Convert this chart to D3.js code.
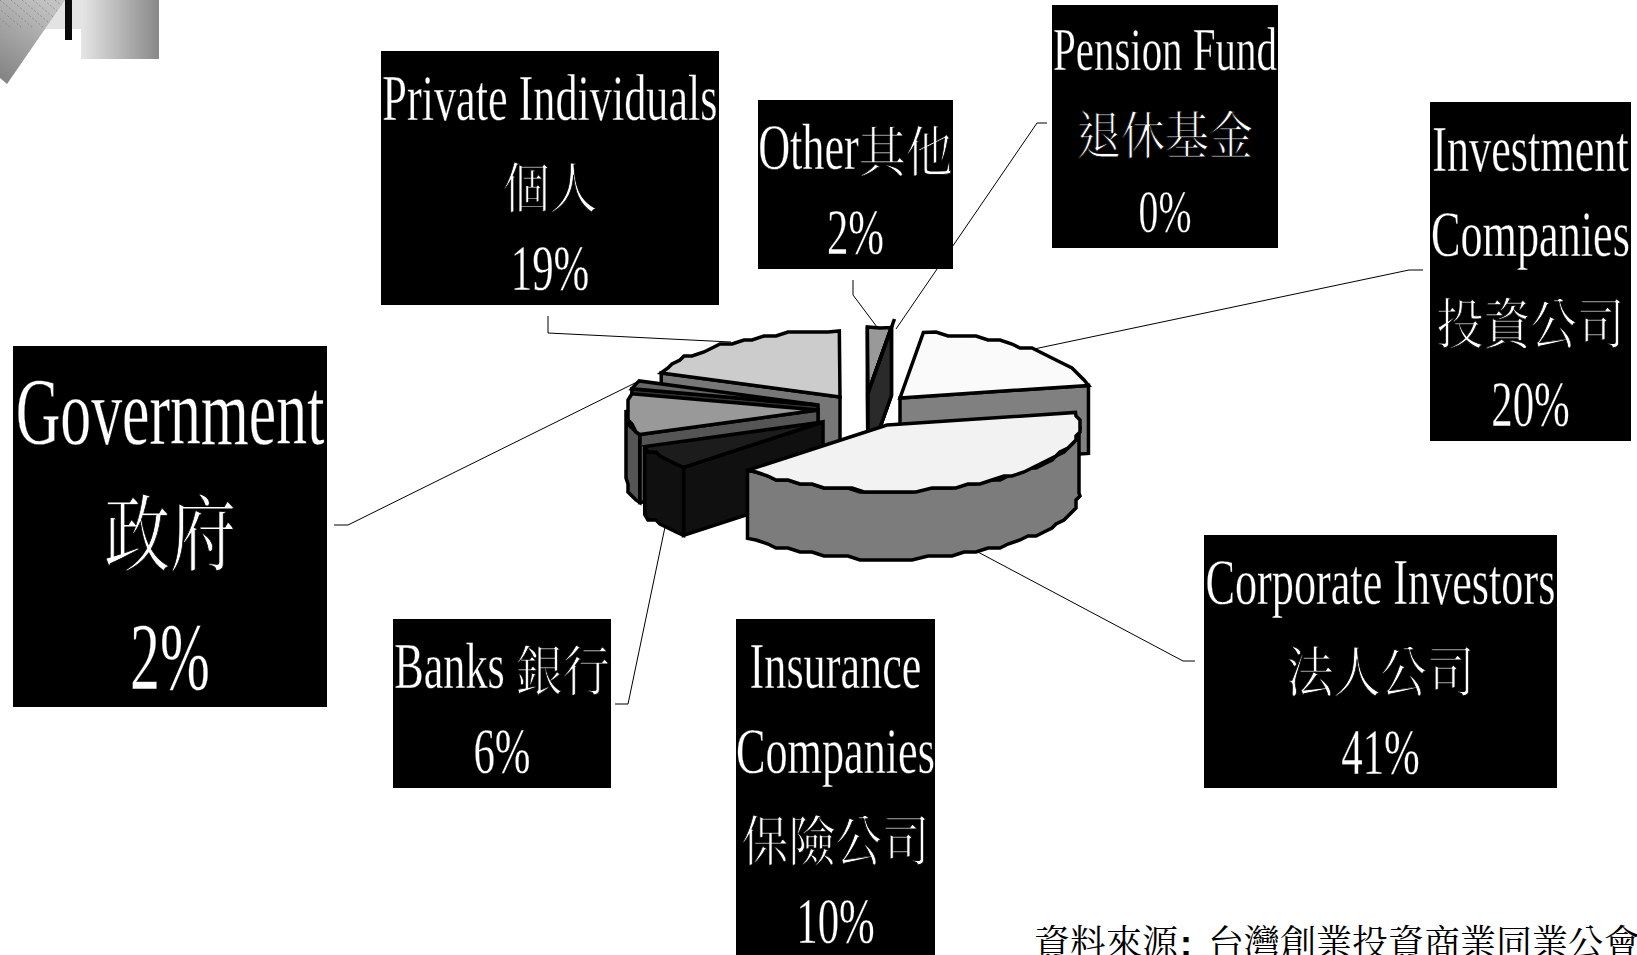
<!DOCTYPE html>
<html><head><meta charset="utf-8">
<script src="https://cdn.jsdelivr.net/npm/d3@7/dist/d3.min.js"></script>
<style>html,body{margin:0;padding:0;background:#fff;overflow:hidden}svg{display:block}</style>
</head><body><svg id="c" width="1637" height="955"></svg>
<script>
// ---- data (clockwise from the pie's start angle)
const categories = ["Investment Companies","Corporate Investors","Banks","Insurance Companies","Government","Private Individuals","Other","Pension Fund"];
const values = [20,41,6,10,2,19,2,0];
const labelLines = [
  ["Investment","Companies","投資公司"],
  ["Corporate Investors","法人公司"],
  ["Banks 銀行"],
  ["Insurance","Companies","保險公司"],
  ["Government","政府"],
  ["Private Individuals","個人"],
  ["Other其他"],
  ["Pension Fund","退休基金"]
];
const sourceNote = ["資料來源",": ","台灣創業投資商業同業公會"];

// ---- styling and layout, by category index
const topFill  = ["#fafafa","#f2f2f2","#1c1c1c","#999999","#666666","#cccccc","#999999","#333333"];
const wallFill = ["#808080","#7c7c7c","#101010","#555555","#333333","#777777","#2a2a2a","#2a2a2a"];
const apex = [[900,398],[887,425],[823,422],[818,410],[818,405],[840,397],[868,393],[868,393]];
const drawOrder = [0,5,6,7,4,3,2,1];
const boxes = [[1430,102,201,339],[1204,535,353,253],[393,619,218,169],[736,619,199,345],[13,346,314,361],[381,51,338,254],[758,100,195,169],[1052,5,226,243]];
const leaders = [
  [[1423,270],[1409,270],[1034,349]],
  [[1195,661],[1183,661],[976,551]],
  [[615,704],[628,704],[665,527]],
  null,
  [[334,525],[348,525],[635,383]],
  [[548,316],[548,333],[731,342]],
  [[853,280],[853,295],[877,327]],
  [[1047,123],[1037,123],[896,329]]
];
// text metrics per label: latin size, line pitch, first baseline offset, cjk size, latin squeeze
const textStyle = categories.map((c,i)=> i===4 ? {size:95,pitch:122.5,first:98,cjk:66,sq:.65,cy:1.25,off:-3}
  : i===7 ? {size:62,pitch:81,first:65,cjk:44,sq:.66,cy:1.15,off:3}
  : {size:66,pitch:85,first:69,cjk:47,sq:.67,cy:1.15,off:3});
const rx = 192, ry = 66, depth = 68;
const svg = d3.select("#c");
const defs = svg.append("defs");

// ---- corner decoration
const g1 = defs.append("linearGradient").attr("id","gr1");
g1.append("stop").attr("offset",0).attr("stop-color","#e6e6e6");
g1.append("stop").attr("offset",1).attr("stop-color","#888888");
const g2 = defs.append("linearGradient").attr("id","gr2").attr("x1",0.7).attr("y1",0).attr("x2",0.2).attr("y2",1);
g2.append("stop").attr("offset",0).attr("stop-color","#c4c4c4");
g2.append("stop").attr("offset",1).attr("stop-color","#858585");
const deco = svg.append("g");
deco.append("rect").attr("x",40).attr("y",0).attr("width",41).attr("height",29).attr("fill","#e3e3e3");
deco.append("rect").attr("x",81).attr("y",0).attr("width",78).attr("height",59).attr("fill","url(#gr1)");
deco.append("polygon").attr("points","0,0 65,0 7,84 0,78").attr("fill","url(#gr2)");
defs.append("clipPath").attr("id","decoClip").append("polygon").attr("points","0,0 65,0 46,28 0,28");
deco.append("g").attr("clip-path","url(#decoClip)").selectAll("line").data(d3.range(-5,9)).join("line")
  .attr("x1",d=>d*11).attr("y1",0).attr("x2",d=>d*11+52).attr("y2",44)
  .attr("stroke","#6f6f6f").attr("stroke-width",1).attr("stroke-dasharray","2 2").attr("opacity",.55);
deco.append("rect").attr("x",65).attr("y",0).attr("width",7).attr("height",40).attr("fill","#0a0a0a");

// ---- pie geometry from d3.pie
const deg = Math.PI/180;
const arcs = d3.pie().sort(null).value(d=>d).startAngle(7*deg).endAngle(367*deg)(values);
const grid = 4;
const snap = v => Math.round(v/grid)*grid;
const rawPt = (i,a,k=1) => [apex[i][0]+k*rx*Math.sin(a), apex[i][1]-k*ry*Math.cos(a)];
const rimPt = (i,a,dz=0) => { const p = rawPt(i,a); return [snap(p[0]), snap(p[1])+dz]; };
const exactPt = (i,a,dz=0) => { const p = rawPt(i,a); return [p[0], p[1]+dz]; };
const samples = (a0,a1,step=4*deg) => {
  const n = Math.max(1,Math.ceil((a1-a0)/step));
  return d3.range(n+1).map(k=>a0+(a1-a0)*k/n);
};
const line = d3.line().curve(d3.curveLinearClosed);
const pieG = svg.append("g").attr("stroke","#000").attr("stroke-width",3.5).attr("stroke-linejoin","miter").attr("stroke-miterlimit",3);

drawOrder.forEach(i=>{
  const a0 = arcs[i].startAngle, a1 = arcs[i].endAngle, c = apex[i];
  const g = pieG.append("g");
  // only the radial cut faces that look toward the viewer
  const faces = [];
  if (Math.sin(a0) < 0 || a1===a0) faces.push(a0);
  if (Math.sin(a1) > 0) faces.push(a1);
  faces.forEach(a=>{
    const p = exactPt(i,a);
    g.append("path").attr("fill",wallFill[i])
      .attr("d",line([c,p,[p[0],p[1]+depth],[c[0],c[1]+depth]]));
  });
  // outer wall: front half of the rim only
  const w0 = Math.max(a0,90*deg), w1 = Math.min(a1,270*deg);
  if (w1>w0) {
    const s = samples(w0,w1);
    const upper = s.map((a,k)=>(k===0||k===s.length-1)?exactPt(i,a):rimPt(i,a));
    const lower = s.map((a,k)=>(k===0||k===s.length-1)?exactPt(i,a,depth):rimPt(i,a,depth)).reverse();
    g.append("path").attr("fill",wallFill[i]).attr("d",line(upper.concat(lower)));
  }
  // top surface
  const s = samples(a0,a1);
  g.append("path").attr("fill",topFill[i])
    .attr("d",line([c].concat(s.map((a,k)=>(k===0||k===s.length-1)?exactPt(i,a):rimPt(i,a)))));
  // a zero share has no area: it shows as a spike along its radius
  if (a1===a0) {
    g.append("path").attr("fill","none").attr("d",d3.line()([c,rawPt(i,a0,1.13)]));
  }
});

// ---- leader lines
svg.append("g").selectAll("path").data(leaders.filter(Boolean)).join("path")
  .attr("d",d3.line()).attr("fill","none").attr("stroke","#000").attr("stroke-width",1);

// ---- labels: Latin runs are condensed, CJK runs keep their width
const isCJK = /[\u2E80-\u9FFF\uF900-\uFAFF]+/g;
function runs(s){
  const out=[]; let last=0; let m;
  isCJK.lastIndex=0;
  while((m=isCJK.exec(s))){ if(m.index>last) out.push([s.slice(last,m.index),false]); out.push([m[0],true]); last=m.index+m[0].length; }
  if(last<s.length) out.push([s.slice(last),false]);
  return out;
}
categories.forEach((name,i)=>{
  const [x,y,w,h] = boxes[i];
  const st = textStyle[i];
  const g = svg.append("g").attr("aria-label",name);
  g.append("rect").attr("x",x).attr("y",y).attr("width",w).attr("height",h).attr("fill","#000");
  const lines = labelLines[i].concat([values[i]+"%"]);
  lines.forEach((ln,k)=>{
    const base = y+st.first+k*st.pitch;
    const isPct = k===lines.length-1;
    const sq = isPct ? st.sq*.97 : st.sq;
    const parts = runs(ln).map(([t,c])=>{
      const el = g.append("text").text(t).attr("fill","#fff").style("white-space","pre")
        .attr("font-family",c?"'Noto Serif CJK TC','Noto Sans CJK TC'":"'Liberation Serif'")
        .attr("font-size",c?st.cjk:st.size)
        .attr("stroke","#000").attr("stroke-width",c?.7:.35);
      const wd = el.node().getComputedTextLength()*(c?1:sq);
      return {el,c,wd};
    });
    let cur = x+w/2-d3.sum(parts,p=>p.wd)/2;
    parts.forEach(p=>{
      const tf = p.c ? `translate(${cur},${base+st.off}) scale(1,${st.cy})`
                     : `translate(${cur},${base}) scale(${sq},1)`;
      p.el.attr("transform",tf);
      cur += p.wd;
    });
  });
});

// ---- source note
const src = svg.append("text").attr("x",1034).attr("y",956).attr("font-size",36).attr("fill","#000")
  .attr("font-family","'Noto Serif CJK TC','Noto Sans CJK TC'").style("white-space","pre");
src.append("tspan").text(sourceNote[0]);
src.append("tspan").text(sourceNote[1]).attr("font-family","'Liberation Sans'").attr("font-weight",700).attr("dx",2);
src.append("tspan").text(sourceNote[2]).attr("dx",6);
</script></body></html>
